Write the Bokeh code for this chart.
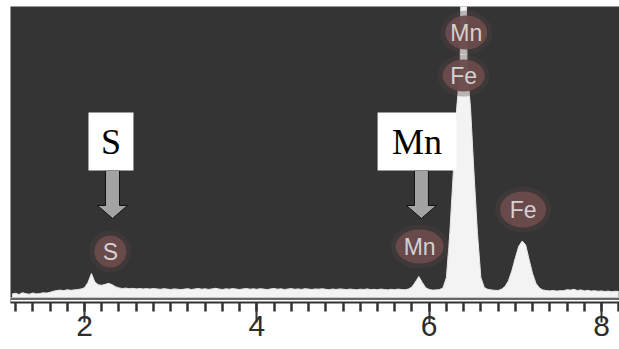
import numpy as np
from bokeh.plotting import figure
from bokeh.models import Range1d, SingleIntervalTicker, BoxAnnotation, Span, ColumnDataSource
from bokeh.core.properties import value
from bokeh.embed import file_html
from bokeh.resources import INLINE

# EDS spectrum: channel grid (keV) and counts per channel
CHANNEL_START_KEV = 1.16
CHANNEL_WIDTH_KEV = 0.04
counts = [
    35, 42, 30, 48, 38, 33, 45, 36, 40, 47,            # 1.16 - 1.52
    44, 52, 63, 70, 74, 68, 78, 72, 76, 80,            # 1.56 - 1.92
    85, 98, 150, 240, 155, 128, 122, 132, 142, 128,    # 1.96 - 2.32
    108, 96, 90, 94, 88, 92, 86, 90, 85, 89,           # 2.36 - 2.72
    84, 90, 86, 82, 88, 84, 80, 86, 83, 79,            # 2.76 - 3.12
    84, 88, 80, 85, 90, 83, 87, 81, 86, 92,            # 3.16 - 3.52
    85, 80, 87, 83, 89, 84, 80, 86, 90, 83,            # 3.56 - 3.92
    87, 82, 88, 84, 79, 86, 90, 83, 87, 80,            # 3.96 - 4.32
    85, 89, 82, 86, 81, 88, 84, 80, 86, 83,            # 4.36 - 4.72
    88, 82, 78, 85, 80, 86, 83, 79, 84, 81,            # 4.76 - 5.12
    77, 83, 80, 86, 79, 82, 78, 84, 80, 76,            # 5.16 - 5.52
    82, 78, 84, 80, 77, 85, 105, 155, 210, 150,        # 5.56 - 5.92
    98, 80, 74, 76, 80, 95, 200, 650, 1250, 1900,      # 5.96 - 6.32
    2300, 6000, 2300, 1900, 1250, 650, 200, 100, 82, 76,  # 6.36 - 6.72
    72, 70, 83, 109, 167, 268, 397, 513, 565, 525,     # 6.76 - 7.12
    380, 240, 140, 95, 75, 70, 66, 70, 64, 68,         # 7.16 - 7.52
    68, 78, 74, 82, 70, 76, 66, 72, 64, 68,            # 7.56 - 7.92
    62, 66, 60, 64, 58, 62, 60,                        # 7.96 - 8.20
]
energy_kev = np.round(CHANNEL_START_KEV + CHANNEL_WIDTH_KEV * np.arange(len(counts)), 2)

# element markers placed on the spectrum
marker_text = ["S", "Mn", "Mn", "Fe", "Fe"]
marker_kev = [2.30, 5.89, 6.43, 6.40, 7.09]
marker_counts = [460, 510, 2650, 2220, 880]
marker_w = [32, 48, 42, 42, 46]
marker_h = [32, 34, 34, 32, 36]

# callout boxes with arrows
callout_text = ["S", "Mn"]
callout_kev = [2.307, 5.86]
callout_counts = [1560, 1560]
callout_w = [45, 79]
arrow_kev = [2.325, 5.91]
arrow_tip_counts = [790, 790]
arrow_top_counts = [1270, 1270]

X_START, X_END = 1.141, 8.209
Y_START, Y_END = -50, 2910
FRAME_W, FRAME_H = 609, 296
KEV_PER_PX = (X_END - X_START) / FRAME_W
COUNTS_PER_PX = (Y_END - Y_START) / FRAME_H

PANEL = "#343434"
INK = "#333333"

p = figure(width=619, height=349,
           x_range=Range1d(X_START, X_END), y_range=Range1d(Y_START, Y_END),
           output_backend="svg", toolbar_location=None,
           x_axis_location="below", y_axis_location=None,
           min_border_left=10, min_border_right=0, min_border_top=6, min_border_bottom=47,
           background_fill_color=PANEL, border_fill_color="white", outline_line_color=None)
p.grid.visible = False

# white strip under the spectrum baseline, with the thin rule above the axis
p.add_layout(BoxAnnotation(top=0, fill_color="white", fill_alpha=1.0, line_color=None, level="underlay"))
p.add_layout(Span(location=-15, dimension="width", line_color=INK, line_width=1.5))

# spectrum
p.varea(x=energy_kev, y1=0, y2=counts, fill_color="#f3f3f3")
p.line(x=energy_kev, y=counts, line_color="#e6e6e6", line_width=1)

# element markers
msrc = ColumnDataSource(dict(x=marker_kev, y=marker_counts, t=marker_text,
                             w=[w + 10 for w in marker_w], h=[h + 10 for h in marker_h],
                             wc=marker_w, hc=marker_h))
p.ellipse(x="x", y="y", width="w", height="h", width_units="screen", height_units="screen",
          source=msrc, fill_color="#554242", fill_alpha=0.35, line_color=None)
p.ellipse(x="x", y="y", width="wc", height="hc", width_units="screen", height_units="screen",
          source=msrc, fill_color="#6a4b4b", fill_alpha=0.95, line_color=None)
p.text(x="x", y="y", text="t", source=msrc, text_font=value("Liberation Sans"),
       text_font_size="23px", text_color="#d6d0d0", text_align="center", text_baseline="middle")

# arrows from callout boxes down to the marked peaks
shaft_half = 7 * KEV_PER_PX
head_half = 15 * KEV_PER_PX
head_len = 13 * COUNTS_PER_PX
xs, ys = [], []
for ax_kev, tip, top in zip(arrow_kev, arrow_tip_counts, arrow_top_counts):
    base = tip + head_len
    xs.append([ax_kev - shaft_half, ax_kev + shaft_half, ax_kev + shaft_half, ax_kev + head_half,
               ax_kev, ax_kev - head_half, ax_kev - shaft_half])
    ys.append([top, top, base, base, tip, base, base])
p.patches(xs=xs, ys=ys, fill_color="#a3a3a3", line_color="#111111", line_width=1)

# callout boxes
csrc = ColumnDataSource(dict(x=callout_kev, y=callout_counts, t=callout_text, w=callout_w))
p.rect(x="x", y="y", width="w", height=58, width_units="screen", height_units="screen",
       source=csrc, fill_color="white", line_color=None)
p.text(x="x", y="y", text="t", source=csrc, text_font=value("Liberation Serif"),
       text_font_size="36px", text_color="black", text_align="center", text_baseline="middle")

# energy axis
ax = p.xaxis[0]
ax.ticker = SingleIntervalTicker(interval=2, num_minor_ticks=10)
ax.axis_line_color = INK
ax.axis_line_width = 2
ax.major_tick_in = 0
ax.major_tick_out = 20
ax.minor_tick_in = 0
ax.minor_tick_out = 9
ax.major_tick_line_color = INK
ax.minor_tick_line_color = INK
ax.major_tick_line_width = 2
ax.minor_tick_line_width = 2.5
ax.major_label_standoff = -7
ax.major_label_text_font = "Liberation Sans"
ax.major_label_text_font_size = "30px"
ax.major_label_text_color = "#2e2e2e"

open("out.html", "w").write(file_html(p, INLINE))
